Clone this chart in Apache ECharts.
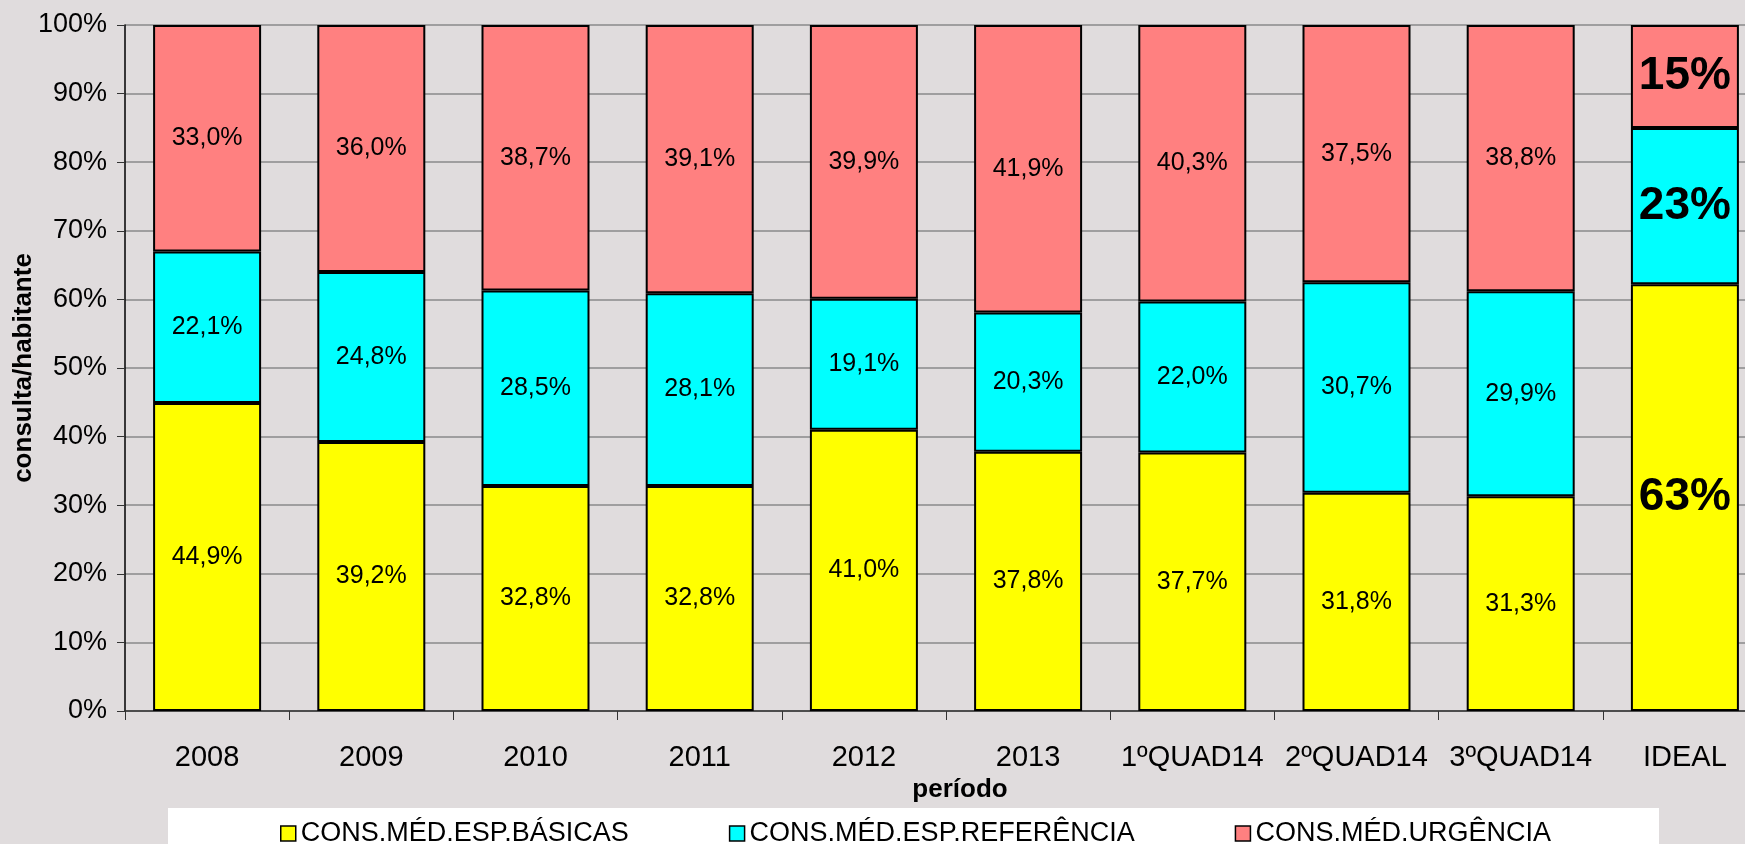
<!DOCTYPE html>
<html>
<head>
<meta charset="utf-8">
<title>consulta/habitante</title>
<script src="https://cdn.jsdelivr.net/npm/echarts@6/dist/echarts.min.js"></script>
<style>
  html, body {margin:0;padding:0;background:#e0dcdd;}
  #chart {width:1745px;height:844px;}
</style>
</head>
<body>
<div id="chart"></div>
<script>
  // períodos
  var categorias = ['2008', '2009', '2010', '2011', '2012', '2013', '1ºQUAD14', '2ºQUAD14', '3ºQUAD14', 'IDEAL'];
  // % por tipo de consulta
  var basicas    = [44.9, 39.2, 32.8, 32.8, 41.0, 37.8, 37.7, 31.8, 31.3, 62.2];
  var referencia = [22.1, 24.8, 28.5, 28.1, 19.1, 20.3, 22.0, 30.7, 29.9, 22.8];
  var urgencia   = [33.0, 36.0, 38.7, 39.1, 39.9, 41.9, 40.3, 37.5, 38.8, 15.0];
  // rótulos da barra IDEAL (arredondados no original)
  var idealBasicas = '63%', idealReferencia = '23%', idealUrgencia = '15%';
  var yTicks = [0, 10, 20, 30, 40, 50, 60, 70, 80, 90, 100];

  var fonte = "'Liberation Sans', Arial, sans-serif";

  function serie(nome, valores, cor, rotuloIdeal) {
    return {
      name: nome,
      type: 'bar',
      stack: 'total',
      barWidth: 108,
      itemStyle: {color: cor, borderColor: '#000', borderWidth: 2},
      label: {
        show: true,
        position: 'inside',
        color: '#000',
        fontFamily: fonte,
        fontSize: 25,
        formatter: function (p) {
          return p.value.toFixed(1).replace('.', ',') + '%';
        }
      },
      data: valores.map(function (v, i) {
        if (i == valores.length - 1) {
          return {value: v, label: {formatter: rotuloIdeal, fontSize: 46, fontWeight: 'bold'}};
        }
        return v;
      })
    };
  }

  var chart = echarts.init(document.getElementById('chart'));
  chart.setOption({
    backgroundColor: '#e0dcdd',
    animation: false,
    textStyle: {fontFamily: fonte},
    graphic: [{
      type: 'rect',
      left: 168, top: 808,
      shape: {width: 1491, height: 40},
      style: {fill: '#ffffff'},
      z: 0
    }],
    legend: {
      left: 275,
      top: 815,
      itemWidth: 15,
      itemHeight: 15,
      itemGap: 100,
      icon: 'rect',
      itemStyle: {borderColor: '#000', borderWidth: 1.5},
      textStyle: {fontFamily: fonte, fontSize: 27, color: '#000'},
      data: ['CONS.MÉD.ESP.BÁSICAS', 'CONS.MÉD.ESP.REFERÊNCIA', 'CONS.MÉD.URGÊNCIA']
    },
    grid: {left: 125, right: -22, top: 25, bottom: 133, outerBoundsMode: 'none', containLabel: false},
    xAxis: {
      type: 'category',
      data: categorias,
      name: 'período',
      nameLocation: 'middle',
      nameGap: 58,
      nameTextStyle: {fontFamily: fonte, fontSize: 26, fontWeight: 'bold', color: '#000', padding: [0, 0, 0, 28]},
      axisLine: {lineStyle: {color: '#333', width: 1.5}},
      axisTick: {show: true, interval: 0, length: 9, lineStyle: {color: '#333'}},
      axisLabel: {interval: 0, fontSize: 29, color: '#000', margin: 32, fontFamily: fonte}
    },
    yAxis: {
      type: 'value',
      min: yTicks[0],
      max: yTicks[yTicks.length - 1],
      interval: 10,
      name: 'consulta/habitante',
      nameLocation: 'middle',
      nameGap: 88,
      nameMoveOverlap: false,
      nameTextStyle: {fontFamily: fonte, fontSize: 26, fontWeight: 'bold', color: '#000'},
      axisLine: {show: true, lineStyle: {color: '#000', width: 1.5}},
      axisTick: {show: true, length: 8, lineStyle: {color: '#333'}},
      axisLabel: {fontSize: 27, color: '#000', margin: 18, fontFamily: fonte, formatter: '{value}%'},
      splitLine: {lineStyle: {color: '#8a8a8a', width: 1.5}}
    },
    series: [
      serie('CONS.MÉD.ESP.BÁSICAS', basicas, '#ffff00', idealBasicas),
      serie('CONS.MÉD.ESP.REFERÊNCIA', referencia, '#00ffff', idealReferencia),
      serie('CONS.MÉD.URGÊNCIA', urgencia, '#ff8080', idealUrgencia)
    ]
  });
</script>
</body>
</html>
